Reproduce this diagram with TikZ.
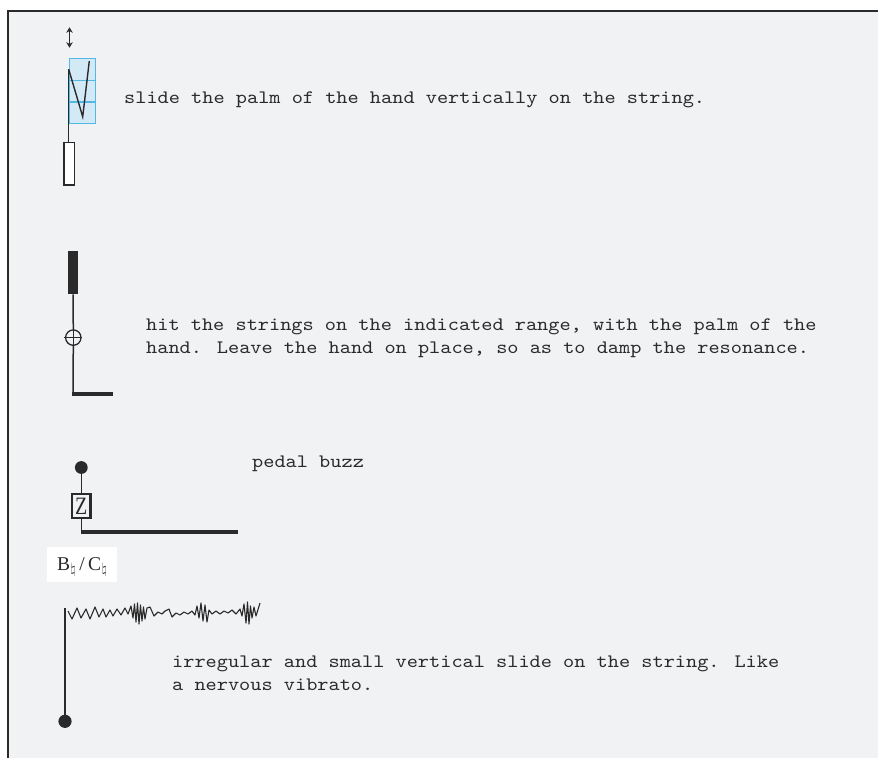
\documentclass[tikz,border=0pt]{standalone}
\usepackage{fontspec}
\newfontfamily\monofont[Extension=.otf, FakeStretch=1.12]{lmmono10-regular}
\newfontfamily\pitchfont{Liberation Serif}
\usetikzlibrary{arrows.meta}
\definecolor{paper}{HTML}{F1F2F4}
\definecolor{ink}{HTML}{2A2A2A}
\definecolor{boxblue}{HTML}{D3EAF6}
\definecolor{lineblue}{HTML}{52B9E4}

\begin{document}
\begin{tikzpicture}[x=1pt,y=-1pt,
  note/.style={font=\monofont\fontsize{19}{22.7}\selectfont, text=ink, anchor=base west, inner sep=0pt},
  stringline/.style={draw=ink, line width=1.5pt},
  barline/.style={draw=ink, line width=3.8pt},
  blackdot/.style={circle, fill=ink, inner sep=0pt, minimum size=12.8pt},
  natsign/.style={},
]
\useasboundingbox (0,0) rectangle (878,758);
\fill[white] (0,0) rectangle (878,758);
\fill[paper] (8,11) rectangle (878,758);
\draw[ink, line width=2.6pt] (8,758) -- (8,11) -- (878,11);

% --- palm slide ---
\coordinate (arrtop) at (69.5,27.3);
\coordinate (arrbot) at (69.5,47.7);
\draw[ink, line width=1.4pt, {Stealth[length=5.5pt,width=6.5pt]}-{Stealth[length=5.5pt,width=6.5pt]}] (arrtop) -- (arrbot);
\node[draw=lineblue, fill=boxblue, line width=1.3pt, minimum width=26.4pt, minimum height=65pt, inner sep=0pt] (palmbox) at (82.5,90.8) {};
\draw[lineblue, line width=1.6pt] (palmbox.west |- 0,80.3) -- (palmbox.east |- 0,80.3);
\draw[lineblue, line width=1.6pt] (palmbox.west |- 0,101.7) -- (palmbox.east |- 0,101.7);
\node[draw=ink, fill=white, line width=1.2pt, minimum width=10.3pt, minimum height=42.7pt, inner sep=0pt] (palmstem) at (69.2,163.6) {};
\coordinate (slidetop) at (68.7,69.3);
\draw[stringline] (slidetop) -- (palmstem.north -| slidetop);
\draw[ink, line width=1.4pt] (slidetop) -- (82.7,116.7) -- (89.3,61);
\node[note] (slidetext) at (124,103) {slide the palm of the hand vertically on the string.};

% --- palm hit ---
\node[fill=ink, minimum width=10.6pt, minimum height=43.3pt, inner sep=0pt] (hitbar) at (73,272.6) {};
\node[circle, draw=ink, line width=1.3pt, minimum size=15.4pt, inner sep=0pt] (hitring) at (73.3,337.6) {};
\draw[ink, line width=1.2pt] (hitring.north) -- (hitring.south);
\draw[ink, line width=1.2pt] ([xshift=-1pt]hitring.west) -- (hitring.east);
\coordinate (hitcorner) at (73,394);
\draw[stringline] (hitbar.south) -- (hitring.north);
\draw[stringline] (hitring.south) -- (hitcorner);
\coordinate (hitend) at (113.3,394);
\draw[barline, line width=3.6pt] ([xshift=-0.75pt]hitcorner) -- (hitend);
\node[note] (hittext1) at (146,330.7) {hit the strings on the indicated range, with the palm of the};
\node[note] (hittext2) at (146,353.4) {hand. Leave the hand on place, so as to damp the resonance.};

% --- pedal buzz ---
\node[blackdot] (buzzdot) at (81.3,467.5) {};
\node[draw=ink, line width=2.5pt, minimum width=18.2pt, minimum height=24.1pt, inner sep=0pt, font=\pitchfont\fontsize{25}{25}\selectfont, text=ink] (zbox) at (81.3,506) {\scalebox{0.8}[1]{Z}};
\draw[stringline] (buzzdot) -- (zbox);
\coordinate (buzzcorner) at (81.3,532);
\draw[stringline] (zbox.south) -- (buzzcorner);
\coordinate (buzzend) at (238.3,532);
\draw[barline] ([xshift=-0.75pt]buzzcorner) -- (buzzend);
\node[note] (buzztext) at (252,467) {pedal buzz};

% --- pitch label ---
\newcommand\natsub{\raisebox{-3.2pt}{\fontsize{14}{14}\selectfont$\natural$}}
\node[fill=white, anchor=base, inner sep=0pt, minimum width=70.6pt, text height=23.3pt, text depth=11.7pt, align=center, font=\pitchfont\fontsize{19.5}{19.5}\selectfont, text=ink] (pitch) at (82,570) {B\kern0.3pt\natsub\kern3.5pt/\kern3.5ptC\kern0.3pt\natsub};

% --- nervous vibrato ---
\coordinate (vibtop) at (65,608.3);
\node[blackdot, minimum size=13.2pt] (vibdot) at (65,721.3) {};
\draw[stringline] (vibtop) -- (vibdot);
\draw[ink, line width=1.1pt, line join=round]
  (68,611) -- (72,619) -- (77,608) -- (81,618) -- (86,609) -- (90,619) -- (95,607) -- (99,617)
  -- (103,609) -- (106,617) -- (110,610) -- (113,616) -- (117,609) -- (121,615) -- (125,608)
  -- (128,614) -- (131,606) -- (133,618) -- (134.5,604) -- (136,622) -- (137.5,603) -- (139,624)
  -- (140.5,605) -- (142,621) -- (143.5,607) -- (145,619) -- (147,608) -- (150,607) -- (154,616)
  -- (158,612) -- (162,614) -- (165,611) -- (169,609) -- (172,617) -- (176,613) -- (180,615)
  -- (184,612) -- (188,614) -- (192,611) -- (195,615) -- (197,606) -- (199,618) -- (201,603)
  -- (203,621) -- (205,605) -- (207,622) -- (209,610) -- (212,614) -- (216,611) -- (220,614)
  -- (224,611) -- (228,613) -- (232,610) -- (236,614) -- (240,609) -- (242,616) -- (244,604)
  -- (246,623) -- (247.5,602) -- (249,624) -- (250.5,606) -- (252,618) -- (254,607) -- (256,616)
  -- (260,603);
\node[note] (vibtext1) at (172,667.3) {irregular and small vertical slide on the string. Like};
\node[note] (vibtext2) at (172,690) {a nervous vibrato.};
\end{tikzpicture}
\end{document}
